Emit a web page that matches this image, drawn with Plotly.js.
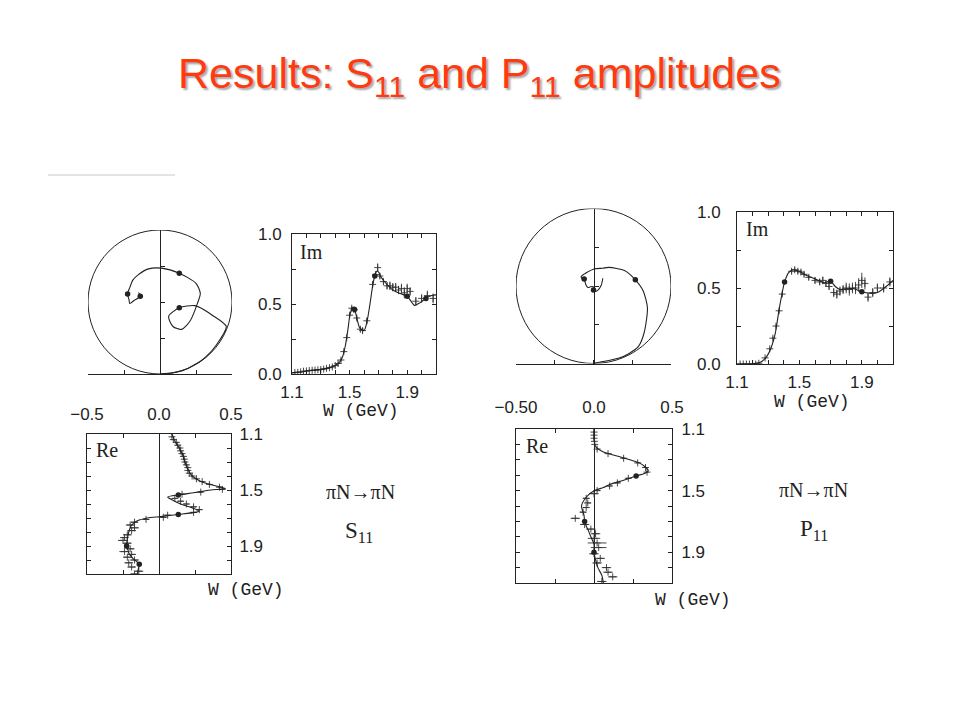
<!DOCTYPE html>
<html>
<head>
<meta charset="utf-8">
<script src="https://cdn.plot.ly/plotly-3.0.1.min.js"></script>
<style>html,body{margin:0;padding:0;background:#fff;}#chart{width:960px;height:720px;}</style>
</head>
<body>
<div id="chart"></div>
<script>
// ---------- S11 model curve ----------
const s11W  = [1.08,1.10,1.15,1.20,1.25,1.30,1.35,1.40,1.43,1.45,1.47,1.49,1.50,1.51,1.52,1.535,1.55,1.57,1.60,1.62,1.64,1.65,1.66,1.675,1.69,1.70,1.72,1.75,1.80,1.85,1.90,1.93,1.95,1.99,2.03,2.07,2.10];
const s11Re = [0.00,0.088,0.11,0.14,0.165,0.18,0.20,0.23,0.275,0.32,0.39,0.46,0.36,0.30,0.24,0.134,0.06,0.09,0.15,0.21,0.26,0.28,0.25,0.134,0.01,-0.08,-0.15,-0.19,-0.21,-0.22,-0.225,-0.215,-0.21,-0.18,-0.137,-0.145,-0.15];
const s11Im = [0.000,0.008,0.013,0.020,0.027,0.033,0.042,0.06,0.085,0.12,0.20,0.33,0.41,0.45,0.475,0.46,0.40,0.33,0.31,0.37,0.49,0.56,0.63,0.70,0.735,0.73,0.69,0.65,0.60,0.575,0.555,0.515,0.49,0.51,0.54,0.56,0.565];
// S11 marked energies
const s11DotW  = [1.535,1.675,1.90,2.03];
const s11DotRe = [0.134,0.134,-0.225,-0.137];
const s11DotIm = [0.46,0.70,0.555,0.54];
// S11 data (Im)
const s11ImDataW = [1.12,1.14,1.16,1.18,1.20,1.22,1.24,1.26,1.28,1.30,1.32,1.34,1.36,1.38,1.40,1.42,1.44,1.46,1.48,1.50,1.515,1.53,1.55,1.575,1.59,1.62,1.66,1.68,1.695,1.71,1.735,1.76,1.78,1.80,1.82,1.84,1.86,1.88,1.90,1.92,1.96,2.00,2.04,2.08];
const s11ImData  = [0.010,0.012,0.015,0.020,0.022,0.025,0.027,0.028,0.030,0.032,0.035,0.040,0.045,0.050,0.060,0.075,0.10,0.16,0.26,0.42,0.47,0.46,0.40,0.32,0.31,0.38,0.64,0.71,0.76,0.70,0.66,0.63,0.63,0.62,0.62,0.60,0.61,0.58,0.61,0.59,0.52,0.54,0.56,0.54];
const s11ImErr   = [0.005,0.005,0.005,0.005,0.005,0.005,0.005,0.005,0.005,0.005,0.005,0.005,0.005,0.005,0.005,0.008,0.01,0.01,0.01,0.015,0.015,0.015,0.015,0.015,0.015,0.02,0.02,0.02,0.03,0.02,0.02,0.025,0.03,0.03,0.03,0.03,0.035,0.04,0.035,0.03,0.03,0.03,0.035,0.035];
// S11 data (Re)
const s11ReDataW = [1.12,1.14,1.16,1.18,1.20,1.22,1.24,1.26,1.28,1.30,1.32,1.34,1.36,1.38,1.40,1.42,1.44,1.46,1.48,1.495,1.515,1.53,1.56,1.58,1.60,1.62,1.64,1.66,1.68,1.695,1.71,1.73,1.75,1.77,1.79,1.82,1.84,1.86,1.88,1.92,1.94,1.96,1.98,2.00,2.02,2.05,2.08,2.10];
const s11ReData  = [0.09,0.10,0.12,0.13,0.145,0.15,0.16,0.17,0.175,0.18,0.19,0.20,0.20,0.21,0.23,0.26,0.30,0.35,0.42,0.44,0.29,0.16,0.11,0.15,0.19,0.24,0.28,0.24,0.06,0.03,-0.09,-0.17,-0.20,-0.17,-0.19,-0.22,-0.24,-0.25,-0.22,-0.20,-0.24,-0.19,-0.22,-0.17,-0.21,-0.19,-0.14,-0.17];
const s11ReErr   = [0.005,0.005,0.005,0.005,0.005,0.005,0.005,0.005,0.005,0.005,0.005,0.005,0.005,0.005,0.008,0.008,0.01,0.01,0.01,0.01,0.015,0.015,0.015,0.02,0.02,0.02,0.02,0.02,0.02,0.02,0.02,0.025,0.03,0.03,0.03,0.03,0.03,0.035,0.03,0.03,0.035,0.03,0.03,0.03,0.03,0.03,0.03,0.03];

// ---------- P11 model curve ----------
const p11W  = [1.08,1.10,1.15,1.20,1.22,1.25,1.28,1.30,1.32,1.345,1.37,1.39,1.405,1.43,1.46,1.48,1.50,1.54,1.60,1.66,1.70,1.73,1.76,1.80,1.85,1.90,1.95,2.00,2.05,2.10];
const p11Re = [0.000,0.000,0.000,0.005,0.015,0.06,0.165,0.23,0.29,0.327,0.348,0.32,0.27,0.20,0.10,0.06,0.003,-0.047,-0.08,-0.064,-0.06,-0.05,-0.036,-0.02,0.00,0.00,0.01,0.025,0.05,0.06];
const p11Im = [0.000,0.000,0.000,0.001,0.004,0.012,0.035,0.065,0.11,0.20,0.36,0.47,0.54,0.60,0.62,0.615,0.61,0.585,0.56,0.535,0.545,0.51,0.49,0.495,0.495,0.475,0.465,0.47,0.505,0.55];
const p11DotW  = [1.405,1.70,1.90];
const p11DotRe = [0.27,-0.06,0.00];
const p11DotIm = [0.54,0.545,0.475];
const p11ImDataW = [1.12,1.14,1.16,1.18,1.20,1.22,1.24,1.28,1.31,1.33,1.35,1.37,1.39,1.45,1.47,1.49,1.51,1.53,1.56,1.60,1.63,1.65,1.67,1.69,1.72,1.74,1.76,1.78,1.80,1.82,1.84,1.86,1.88,1.90,1.92,1.94,1.97,2.00,2.04,2.08];
const p11ImData  = [0,0,0,0,0,0,0.005,0.04,0.10,0.17,0.25,0.35,0.46,0.61,0.62,0.61,0.605,0.59,0.57,0.55,0.54,0.55,0.53,0.51,0.47,0.46,0.48,0.49,0.50,0.49,0.50,0.50,0.52,0.55,0.53,0.44,0.47,0.50,0.50,0.54];
const p11ImErr   = [0.003,0.003,0.003,0.003,0.003,0.003,0.003,0.005,0.008,0.01,0.01,0.01,0.01,0.015,0.015,0.015,0.015,0.015,0.015,0.02,0.02,0.025,0.02,0.02,0.03,0.03,0.03,0.03,0.035,0.04,0.035,0.04,0.045,0.05,0.04,0.03,0.03,0.03,0.03,0.03];
const p11ReDataW = [1.12,1.14,1.16,1.18,1.20,1.23,1.26,1.29,1.32,1.35,1.38,1.42,1.45,1.47,1.50,1.52,1.55,1.58,1.61,1.64,1.68,1.72,1.75,1.78,1.81,1.84,1.87,1.91,1.94,1.97,2.00,2.03,2.06,2.09];
const p11ReData  = [0,0,0,0.003,0.005,0.02,0.09,0.19,0.28,0.33,0.34,0.22,0.15,0.10,0.02,0.0,-0.05,-0.04,-0.05,-0.07,-0.12,-0.06,-0.02,0.01,0.0,0.02,0.03,0.0,0.04,0.02,0.08,0.09,0.12,0.05];
const p11ReErr   = [0.003,0.003,0.003,0.003,0.003,0.005,0.008,0.01,0.01,0.01,0.01,0.015,0.015,0.015,0.02,0.03,0.02,0.02,0.02,0.02,0.03,0.03,0.03,0.03,0.04,0.06,0.05,0.03,0.03,0.03,0.03,0.03,0.03,0.03];

// ---------- tick labels ----------
const wTicks   = [1.1,1.2,1.3,1.4,1.5,1.6,1.7,1.8,1.9,2.0,2.1];
const wLabels  = ['1.1','','','','1.5','','','','1.9','',''];
const imTicks  = [0,0.25,0.5,0.75,1.0];
const imLabels = ['0.0','','0.5','','1.0'];
const reTicks  = [-0.5,-0.25,0,0.25,0.5];
const s11ReLabels = ['\u22120.5','','0.0','','0.5'];
const p11ReLabels = ['\u22120.50','','0.0','','0.5'];
const argTicks = [0.25,0.5,0.75];

// ---------- helpers ----------
const INK = '#222';
const px = v => v/960;
const py = v => 1 - v/720;
const tickFont = {family:'Liberation Sans, Arial, sans-serif', size:17, color:INK};

function curve(x,y,xa,ya){return {x:x,y:y,xaxis:xa,yaxis:ya,type:'scatter',mode:'lines',line:{color:INK,width:1.1,shape:'spline',smoothing:0.7},hoverinfo:'skip'};}
function dots(x,y,xa,ya){return {x:x,y:y,xaxis:xa,yaxis:ya,type:'scatter',mode:'markers',marker:{color:INK,size:5.5},hoverinfo:'skip'};}
function dataV(x,y,e,xa,ya){return {x:x,y:y,xaxis:xa,yaxis:ya,type:'scatter',mode:'markers',
  marker:{symbol:'cross-thin',size:5,color:INK,line:{color:'#333',width:0.9}},
  error_y:{type:'data',array:e,visible:true,color:'#333',thickness:0.9,width:0},hoverinfo:'skip'};}
function dataH(x,y,e,xa,ya){return {x:x,y:y,xaxis:xa,yaxis:ya,type:'scatter',mode:'markers',
  marker:{symbol:'cross-thin',size:5,color:INK,line:{color:'#333',width:0.9}},
  error_x:{type:'data',array:e,visible:true,color:'#333',thickness:0.9,width:0},hoverinfo:'skip'};}

const traces = [
  curve(s11Re,s11Im,'x','y'), dots(s11DotRe,s11DotIm,'x','y'),
  dataV(s11ImDataW,s11ImData,s11ImErr,'x2','y2'), curve(s11W,s11Im,'x2','y2'), dots(s11DotW,s11DotIm,'x2','y2'),
  dataH(s11ReData,s11ReDataW,s11ReErr,'x3','y3'), curve(s11Re,s11W,'x3','y3'), dots(s11DotRe,s11DotW,'x3','y3'),
  curve(p11Re,p11Im,'x4','y4'), dots(p11DotRe,p11DotIm,'x4','y4'),
  dataV(p11ImDataW,p11ImData,p11ImErr,'x5','y5'), curve(p11W,p11Im,'x5','y5'), dots(p11DotW,p11DotIm,'x5','y5'),
  dataH(p11ReData,p11ReDataW,p11ReErr,'x6','y6'), curve(p11Re,p11W,'x6','y6'), dots(p11DotRe,p11DotW,'x6','y6')
];

const boxAxis = {showline:true,linecolor:INK,linewidth:1,mirror:'allticks',ticks:'inside',ticklen:4,tickcolor:INK,
  showgrid:false,zeroline:false,tickfont:tickFont,fixedrange:true};

function argX(d,anchor){return {domain:d,range:[-0.5,0.5],anchor:anchor,showline:true,linecolor:INK,linewidth:1,ticks:'inside',ticklen:4,tickcolor:INK,
  tickvals:reTicks,showticklabels:false,showgrid:false,zeroline:false};}
function argY(d,pos){return {domain:d,range:[0,1],anchor:'free',position:pos,showline:true,linecolor:INK,linewidth:1,ticks:'inside',ticklen:4,tickcolor:INK,
  tickvals:argTicks,showticklabels:false,showgrid:false,zeroline:false};}

const layout = {
  width:960,height:720,margin:{l:0,r:0,t:0,b:0},paper_bgcolor:'#fff',plot_bgcolor:'rgba(0,0,0,0)',showlegend:false,
  // S11 Argand
  xaxis: argX([px(88),px(232)],'y'),
  yaxis: argY([py(374),py(230)],px(160)),
  // S11 Im
  xaxis2: Object.assign({},boxAxis,{domain:[px(292),px(436)],range:[1.1,2.1],anchor:'y2',tickvals:wTicks,ticktext:wLabels,ticklabelstandoff:3}),
  yaxis2: Object.assign({},boxAxis,{domain:[py(374),py(234)],range:[0,1],anchor:'x2',tickvals:imTicks,ticktext:imLabels,ticklabelstandoff:6}),
  // S11 Re
  xaxis3: Object.assign({},boxAxis,{domain:[px(87),px(231)],range:[-0.5,0.5],anchor:'y3',side:'top',tickvals:reTicks,ticktext:s11ReLabels,
    zeroline:true,zerolinecolor:INK,zerolinewidth:1,ticklabelstandoff:6}),
  yaxis3: Object.assign({},boxAxis,{domain:[py(574),py(434)],range:[2.1,1.1],anchor:'x3',side:'right',tickvals:wTicks,ticktext:wLabels,ticklabelstandoff:4}),
  // P11 Argand
  xaxis4: argX([px(516),px(671)],'y4'),
  yaxis4: argY([py(363.5),py(208.5)],px(593.5)),
  // P11 Im
  xaxis5: Object.assign({},boxAxis,{domain:[px(737),px(893)],range:[1.1,2.1],anchor:'y5',tickvals:wTicks,ticktext:wLabels,ticklabelstandoff:3}),
  yaxis5: Object.assign({},boxAxis,{domain:[py(364),py(212)],range:[0,1],anchor:'x5',tickvals:imTicks,ticktext:imLabels,ticklabelstandoff:12}),
  // P11 Re
  xaxis6: Object.assign({},boxAxis,{domain:[px(516),px(672)],range:[-0.5,0.5],anchor:'y6',side:'top',tickvals:reTicks,ticktext:p11ReLabels,
    zeroline:true,zerolinecolor:INK,zerolinewidth:1,ticklabelstandoff:8}),
  yaxis6: Object.assign({},boxAxis,{domain:[py(583),py(429)],range:[2.1,1.1],anchor:'x6',side:'right',tickvals:wTicks,ticktext:wLabels,ticklabelstandoff:5}),
  shapes:[
    {type:'circle',xref:'x',yref:'y',x0:-0.5,x1:0.5,y0:0,y1:1,line:{color:INK,width:1}},
    {type:'circle',xref:'x4',yref:'y4',x0:-0.5,x1:0.5,y0:0,y1:1,line:{color:INK,width:1}},
    {type:'line',xref:'paper',yref:'paper',x0:px(48),x1:px(175),y0:py(175),y1:py(175),line:{color:'#c8c8c8',width:1}}
  ],
  annotations:[]
};

const serif = 'Liberation Serif, Times New Roman, serif';
const mono = 'Liberation Mono, Courier New, monospace';
function ann(text,x,y,font,opts){return Object.assign({text:text,x:px(x),y:py(y),xref:'paper',yref:'paper',showarrow:false,xanchor:'center',yanchor:'middle',font:font},opts||{});}
layout.annotations.push(
  ann('Results: S<sub>11</sub> and P<sub>11</sub> amplitudes',479,76,{family:'Liberation Sans, Arial, sans-serif',size:43,color:'#FF3A10',shadow:'2px 2px 2px rgba(0,0,0,0.35)'}),
  ann('W (GeV)',361,411,{family:mono,size:18,color:INK}),
  ann('W (GeV)',246,590,{family:mono,size:18,color:INK}),
  ann('W (GeV)',812,402,{family:mono,size:18,color:INK}),
  ann('W (GeV)',693,600,{family:mono,size:18,color:INK}),
  ann('Im',311,252,{family:serif,size:20,color:INK}),
  ann('Im',757,229,{family:serif,size:20,color:INK}),
  ann('Re',107,450,{family:serif,size:20,color:INK}),
  ann('Re',537,446,{family:serif,size:20,color:INK}),
  ann('\u03c0N\u2192\u03c0N',360,492,{family:serif,size:20,color:INK}),
  ann('S<sub>11</sub>',359,532,{family:serif,size:23,color:INK}),
  ann('\u03c0N\u2192\u03c0N',813,490,{family:serif,size:20,color:INK}),
  ann('P<sub>11</sub>',814,530,{family:serif,size:23,color:INK})
);

Plotly.newPlot('chart',traces,layout,{staticPlot:true,displayModeBar:false});
</script>
</body>
</html>
